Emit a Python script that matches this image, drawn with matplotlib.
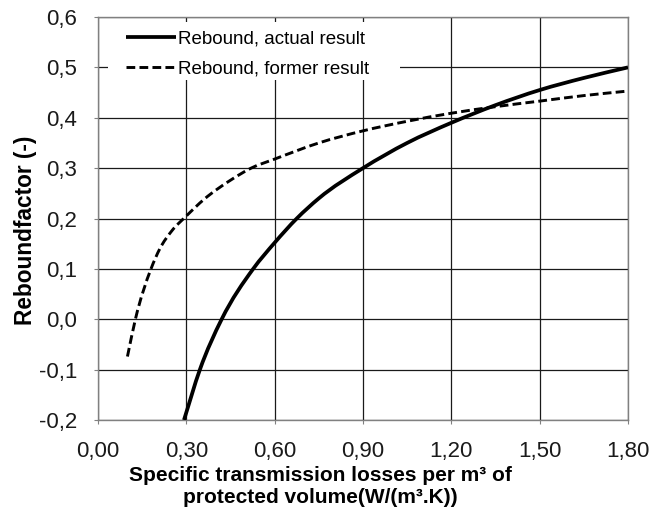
import matplotlib
matplotlib.use("Agg")
import matplotlib.pyplot as plt
from matplotlib.ticker import FuncFormatter
from matplotlib.path import Path
from matplotlib.patches import PathPatch, Rectangle
from matplotlib.lines import Line2D

plt.rcParams['font.family'] = ['Liberation Sans', 'DejaVu Sans']

# Data
x_actual = [0.292, 0.346, 0.42, 0.527, 0.60, 0.675, 0.75, 0.90, 1.05, 1.20, 1.35, 1.50, 1.65, 1.80]
y_actual = [-0.20, -0.10, 0.00, 0.10, 0.152, 0.20, 0.24, 0.30, 0.35, 0.39, 0.425, 0.455, 0.479, 0.50]

x_former = [0.10, 0.127, 0.18, 0.21, 0.25, 0.30, 0.36, 0.45, 0.52, 0.60, 0.75, 0.90, 1.05, 1.20, 1.35, 1.50, 1.65, 1.80]
y_former = [-0.074, 0.00, 0.10, 0.14, 0.175, 0.205, 0.238, 0.276, 0.30, 0.318, 0.35, 0.374, 0.393, 0.409, 0.422, 0.433, 0.444, 0.453]

x_ticks = [0.0, 0.3, 0.6, 0.9, 1.2, 1.5, 1.8]
y_ticks = [-0.2, -0.1, 0.0, 0.1, 0.2, 0.3, 0.4, 0.5, 0.6]

label_actual = "Rebound, actual result"
label_former = "Rebound, former result"
x_label = "Specific transmission losses per m³ of\nprotected volume(W/(m³.K))"
y_label = "Reboundfactor (-)"


def smooth_path(xs, ys):
    """Smoothed line (like a spreadsheet's smoothed series) as cubic Bezier segments."""
    n = len(xs)
    h = [xs[i + 1] - xs[i] for i in range(n - 1)]
    d = [(ys[i + 1] - ys[i]) / h[i] for i in range(n - 1)]
    m = [0.0] * n
    m[0] = d[0]
    m[-1] = d[-1]
    for i in range(1, n - 1):
        m[i] = (d[i - 1] * h[i] + d[i] * h[i - 1]) / (h[i - 1] + h[i])
    verts = [(xs[0], ys[0])]
    codes = [Path.MOVETO]
    for i in range(n - 1):
        verts += [(xs[i] + h[i] / 3, ys[i] + m[i] * h[i] / 3),
                  (xs[i + 1] - h[i] / 3, ys[i + 1] - m[i + 1] * h[i] / 3),
                  (xs[i + 1], ys[i + 1])]
        codes += [Path.CURVE4] * 3
    return Path(verts, codes)


fig = plt.figure(figsize=(6.5, 5.22), dpi=100)
ax = fig.add_axes([98/650, 1 - 420/522, 530/650, 403/522])

solid_lw = 2.7
dash_lw = 2.1
dash_ls = (0, (3.0, 1.45))

ax.add_patch(PathPatch(smooth_path(x_actual, y_actual), fill=False, zorder=3,
                       edgecolor='black', lw=solid_lw, ls='-',
                       capstyle='butt', joinstyle='round'))
ax.add_patch(PathPatch(smooth_path(x_former, y_former), fill=False, zorder=3,
                       edgecolor='black', lw=dash_lw, ls=dash_ls,
                       capstyle='butt', joinstyle='round'))

ax.set_xlim(0, 1.8)
ax.set_ylim(-0.2, 0.6)
ax.set_xticks(x_ticks)
ax.set_yticks(y_ticks)
ax.xaxis.set_major_formatter(FuncFormatter(lambda v, p: f"{v:.2f}".replace('.', ',')))
ax.yaxis.set_major_formatter(FuncFormatter(lambda v, p: f"{v:.1f}".replace('.', ',').replace('-0,0', '0,0')))
ax.grid(True, color='#1a1a1a', lw=0.9, zorder=1)
ax.set_axisbelow(True)
for s in ax.spines.values():
    s.set_color('#808080')
    s.set_linewidth(1.0)
ax.tick_params(axis='both', colors='#808080', length=3, width=0.8, labelcolor='#1a1a1a',
               labelsize=16)
ax.tick_params(axis='x', pad=12)
ax.tick_params(axis='y', pad=12)

ax.set_xlabel(x_label, fontsize=15, fontweight='bold', linespacing=1.2)
ax.xaxis.set_label_coords(0.419, -0.115, transform=ax.transAxes)
ax.xaxis.label.set_verticalalignment('top')
ax.set_ylabel(y_label, fontsize=16.3, fontweight='bold')
ax.yaxis.set_label_coords(-0.116, 0.471)

# white legend area covering gridlines
ax.add_patch(Rectangle(((108 - 98) / 530, (420 - 80) / 403), (400 - 108) / 530, 58 / 403,
                       transform=ax.transAxes, facecolor='white', edgecolor='none', zorder=4))

handles = [Line2D([], [], color='black', lw=solid_lw, ls='-', solid_capstyle='butt'),
           Line2D([], [], color='black', lw=dash_lw, ls=dash_ls, dash_capstyle='butt')]
leg = ax.legend(handles, [label_actual, label_former], loc='upper left',
                bbox_to_anchor=((128 - 98) / 530 - 0.0045, (420 - 30) / 403), borderaxespad=0,
                fontsize=13.5, frameon=False, handlelength=2.7,
                handletextpad=0.1, labelspacing=0.7, borderpad=0.0)
leg.set_zorder(5)

fig.savefig("out.png", dpi=100)
